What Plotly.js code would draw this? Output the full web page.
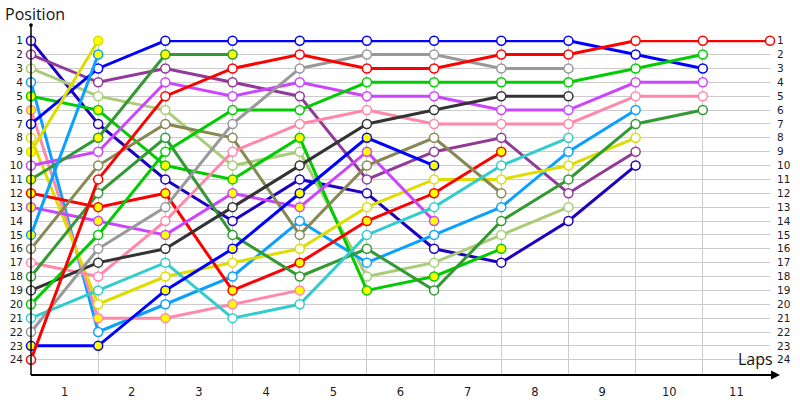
<!DOCTYPE html>
<html><head><meta charset="utf-8">
<script src="https://cdn.plot.ly/plotly-3.0.1.min.js"></script>
<style>html,body{margin:0;padding:0;background:#fff}#chart{width:800px;height:400px}</style>
</head><body><div id="chart"></div>
<script>
// Lap labels (drawn between lap boundaries)
const lapLabels = ['1','2','3','4','5','6','7','8','9','10','11'];
const lapLabelPos = [0.5,1.5,2.5,3.5,4.5,5.5,6.5,7.5,8.5,9.5,10.5];
const lapBoundaries = [1,2,3,4,5,6,7,8,9,10,11];
const positionTicks = [1,2,3,4,5,6,7,8,9,10,11,12,13,14,15,16,17,18,19,20,21,22,23,24];

// Position of each driver at the end of each lap (index 0 = start grid)
const navyDriver      = [1,7,11,14,11,12,16,17,14,10];
const purpleDriver    = [2,4,3,4,5,11,9,8,12,9];
const lightOliveDriver= [3,5,6,10,9,18,17,15,13];
const lightBlueA      = [4,22,20,18,14,17,15,13,9,6];
const greenA          = [5,6,10,11,8,19,18,16];
const pinkA           = [6,21,21,20,19];
const blueA           = [7,3,1,1,1,1,1,1,1,2,3];
const yellowA         = [8,20,18,17,16,13,11,11,10,8];
const yellowB         = [9,1];
const violetA         = [10,9,4,5,4,5,5,6,6,4,4];
const darkGreenA      = [11,8,2,2];
const redA            = [12,13,12,19,17,14,12,9];
const violetB         = [13,14,15,12,13,9,14];
const lightBlueB      = [15,2];
const oliveDriver     = [16,10,7,8,15,10,8,12];
const pinkB           = [17,18,14,9,7,6,7,7,7,5,5];
const darkGreenB      = [18,12,8,15,18,16,19,14,11,7,6];
const darkGrayDriver  = [19,17,16,13,10,7,6,5,5];
const greenB          = [20,15,9,6,6,4,4,4,4,3,2];
const cyanDriver      = [21,19,17,21,20,15,13,10,8];
const grayDriver      = [22,16,13,7,3,2,2,3,3];
const blueB           = [23,23,19,16,12,8,10];
const redB            = [24,11,5,3,2,3,3,2,2,1,1,1];

const series = [navyDriver,purpleDriver,lightOliveDriver,lightBlueA,greenA,pinkA,blueA,yellowA,yellowB,
  violetA,darkGreenA,redA,violetB,lightBlueB,oliveDriver,pinkB,darkGreenB,darkGrayDriver,greenB,
  cyanDriver,grayDriver,blueB,redB];

// Styles (kept separate from data)
const lineColors = ['#2000c0','#913a98','#aacc77','#0aa0ff','#00cc00','#ff88aa','#0000ff','#dddd00','#dddd00',
  '#cc44ff','#339933','#ff0000','#cc44ff','#0aa0ff','#888855','#ff88aa','#339933','#333333','#00cc00',
  '#33cccc','#999999','#0000ff','#ff0000'];
const filledStyle = [false,false,false,false,true,true,false,false,true,
  false,true,true,true,true,false,false,false,false,false,
  false,false,true,false];

const traces = series.map((s, k) => ({
  type: 'scatter', mode: 'lines+markers',
  x: s.map((_, i) => i), y: s,
  line: {color: lineColors[k], width: 3},
  marker: {size: 9, color: filledStyle[k] ? '#ffff00' : '#ffffff', line: {color: lineColors[k], width: 1.5}},
  cliponaxis: false, hoverinfo: 'skip', showlegend: false
}));
// helper trace on the right-hand axis so its labels render
traces.push({type:'scatter', mode:'markers', x:[0], y:[1], yaxis:'y2', marker:{opacity:0}, hoverinfo:'skip', showlegend:false});

const tickFont = {family: 'DejaVu Sans, Verdana, sans-serif', size: 10.5, color: '#1a1a2a'};
const yRange = [25.1, 0.95];

const layout = {
  width: 800, height: 400,
  margin: {l: 31, r: 30, t: 40, b: 25, pad: 0},
  paper_bgcolor: '#ffffff', plot_bgcolor: '#ffffff',
  showlegend: false,
  xaxis: {
    range: [0, 11], tickmode: 'array', tickvals: lapLabelPos, ticktext: lapLabels,
    showgrid: false, zeroline: false, showline: false, ticks: '',
    tickfont: {family: 'DejaVu Sans, Verdana, sans-serif', size: 11.5, color: '#1a1a2a'},
    ticklabelstandoff: 8,
    minor: {tickmode: 'array', tickvals: lapBoundaries, showgrid: true, gridcolor: '#cccccc', gridwidth: 1, ticks: ''}
  },
  yaxis: {
    range: yRange, tickmode: 'array', tickvals: positionTicks, ticktext: positionTicks.map(String),
    showgrid: true, gridcolor: '#cccccc', gridwidth: 1, zeroline: false, showline: false, ticks: '',
    tickfont: tickFont, ticklabelstandoff: 7
  },
  yaxis2: {
    overlaying: 'y', side: 'right', range: yRange, tickmode: 'array', tickvals: positionTicks,
    ticktext: positionTicks.map(String), showgrid: false, zeroline: false, showline: false, ticks: '',
    tickfont: tickFont, ticklabelstandoff: 6
  },
  shapes: [
    {type: 'line', xref: 'paper', yref: 'paper', x0: 0, x1: 1.01, y0: 0, y1: 0, line: {color: '#000', width: 2}},
    {type: 'line', xref: 'paper', yref: 'paper', x0: 0, x1: 0, y0: 0, y1: 1.045, line: {color: '#000', width: 1.5}},
    {type: 'circle', xref: 'paper', yref: 'paper', x0: -0.0025, x1: 0.0025, y0: 1.039, y1: 1.05, fillcolor: '#000', line: {color: '#000', width: 0}}
  ],
  annotations: [
    {text: 'Position', xref: 'paper', yref: 'paper', x: -0.038, y: 1.078, xanchor: 'left', yanchor: 'middle', showarrow: false,
     font: {family: 'Open Sans, DejaVu Sans, sans-serif', size: 16, color: '#111'}},
    {text: 'Laps', xref: 'paper', yref: 'paper', x: 1.007, y: 0.01, xanchor: 'right', yanchor: 'bottom', showarrow: false,
     font: {family: 'Open Sans, DejaVu Sans, sans-serif', size: 16, color: '#111'}},
    {text: '', xref: 'paper', yref: 'paper', x: 1.0135, y: 0, showarrow: true, arrowhead: 2, arrowsize: 1.2, arrowwidth: 1.5,
     arrowcolor: '#000', ax: -14, ay: 0}
  ]
};

Plotly.newPlot('chart', traces, layout, {staticPlot: true, displayModeBar: false});
</script></body></html>
